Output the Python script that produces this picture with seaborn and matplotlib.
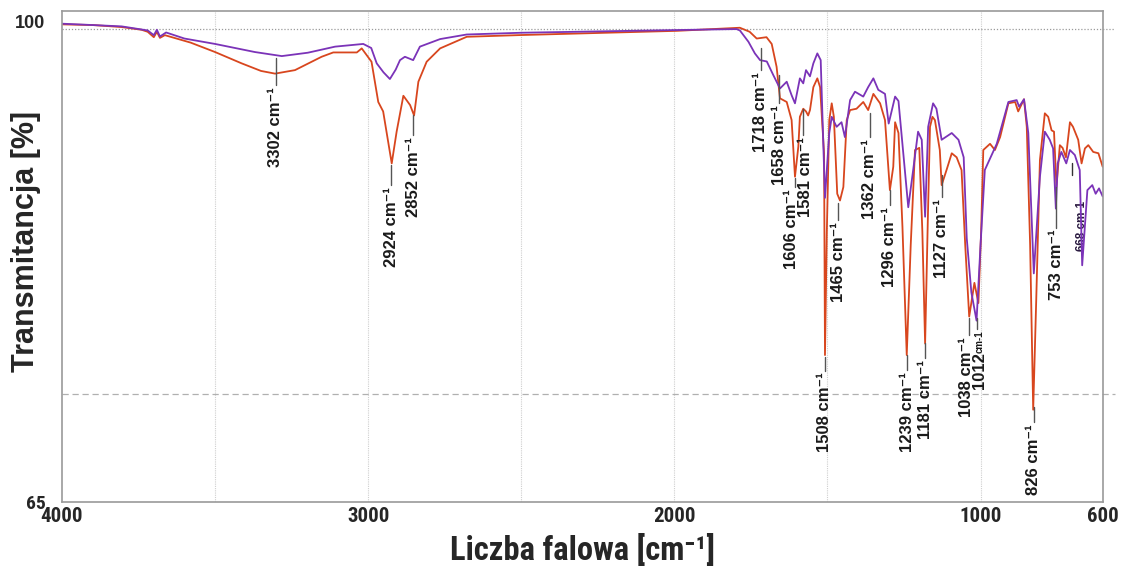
import matplotlib
matplotlib.use("Agg")
import matplotlib.pyplot as plt
from matplotlib.transforms import ScaledTranslation
import pandas as pd
import seaborn as sns

# ===== 数据=====
RED_WN = [4000, 3900, 3805, 3740, 3720, 3700, 3690, 3680, 3664, 3580, 3500, 3413, 3350, 3304,
          3239, 3152, 3114, 3037, 3021, 2989, 2967, 2951, 2923, 2907, 2885, 2863, 2850, 2836,
          2809, 2765, 2678, 2499, 1992, 1786, 1754, 1731, 1699, 1682, 1666, 1655,
          1633, 1617, 1606, 1595, 1590, 1579, 1570, 1563, 1557, 1546, 1533, 1524,
          1511, 1508, 1502, 1494, 1486, 1479, 1468, 1459, 1448, 1437, 1426, 1405,
          1383, 1367, 1350, 1328, 1312, 1296, 1285, 1279, 1268, 1255, 1241, 1228,
          1214, 1200, 1190, 1181, 1172, 1165, 1157, 1149, 1133, 1127, 1111, 1094,
          1078, 1062, 1050, 1037, 1020, 1007, 998, 991, 969, 953, 936, 909, 887,
          877, 858, 849, 838, 828, 818, 806, 790, 779, 768, 760, 752, 741, 732,
          721, 708, 698, 681, 670, 659, 648, 632, 615, 601]
RED_T = [100.35, 100.3, 100.15, 99.95, 99.8, 99.4, 99.8, 99.35, 99.55, 99.0, 98.3, 97.46, 96.9, 96.7,
         96.96, 97.95, 98.27, 98.27, 98.57, 97.58, 94.6, 93.9, 90.05, 92.4, 95.06, 94.37, 93.6, 96.1,
         97.58, 98.57, 99.43, 99.56, 99.87, 100.1, 99.8, 99.3, 99.4, 98.9, 97.2, 94.87,
         94.6, 93.26, 89.06, 91.3, 93.5, 94.1, 93.9, 93.6, 94.0, 95.7, 96.35, 95.7,
         90.8, 75.85, 85.0, 93.26, 94.5, 93.5, 87.8, 87.3, 88.3, 93.26, 94.0, 94.1,
         94.6, 94.0, 95.2, 94.5, 93.26, 88.07, 89.8, 93.1, 92.3, 85.35, 75.85, 84.0,
         91.04, 91.2, 85.0, 76.7, 86.0, 92.76, 93.5, 93.26, 91.04, 88.44, 89.56, 90.8,
         90.5, 89.56, 84.0, 78.7, 81.2, 79.7, 85.0, 91.04, 91.5, 91.04, 92.0, 94.5, 94.6,
         93.9, 94.8, 92.76, 84.0, 71.8, 80.0, 90.3, 93.76, 93.5, 92.5, 92.4, 88.3, 91.4, 91.2,
         90.5, 93.1, 92.76, 91.8, 90.05, 91.16, 91.4, 90.9, 90.8, 89.8]

PURPLE_WN = [4000, 3900, 3805, 3720, 3700, 3690, 3680, 3660, 3600, 3500, 3370, 3282, 3197,
             3108, 3016, 2990, 2972, 2950, 2929, 2910, 2896, 2880, 2853, 2831, 2765, 2678,
             2499, 1992, 1797, 1786, 1758, 1737, 1720, 1698, 1677, 1655, 1633, 1617, 1606, 1590,
             1579, 1570, 1557, 1546, 1533, 1522, 1508, 1494, 1486, 1470, 1454, 1443,
             1426, 1410, 1383, 1367, 1350, 1334, 1312, 1300, 1279, 1268, 1236, 1220,
             1204, 1192, 1181, 1171, 1155, 1144, 1127, 1094, 1072, 1055, 1045, 1030,
             1013, 1000, 986, 947, 909, 882, 874, 858, 844, 826, 806, 790, 774, 763,
             754, 748, 736, 720, 708, 692, 676, 668, 651, 635, 624, 613, 601]
PURPLE_T = [100.4, 100.3, 100.2, 99.9, 99.55, 99.95, 99.45, 99.75, 99.3, 98.9, 98.3, 98.0, 98.25,
            98.7, 98.9, 98.6, 97.46, 96.8, 96.3, 97.0, 97.7, 97.95, 97.7, 98.7, 99.26, 99.6,
            99.73, 99.93, 100.0, 99.9, 99.06, 98.2, 97.7, 97.6, 96.6, 95.6, 96.1, 95.1, 94.5, 96.35,
            95.98, 96.96, 96.5, 97.46, 98.2, 97.7, 87.5, 92.3, 93.5, 92.76, 93.1, 92.0,
            94.74, 95.36, 95.0, 95.7, 96.35, 95.5, 95.2, 93.0, 95.0, 94.67, 86.8, 89.56,
            92.4, 91.8, 86.1, 92.76, 94.5, 94.1, 91.8, 92.3, 91.8, 90.5, 84.5, 80.5,
            78.4, 84.0, 89.56, 91.5, 94.6, 94.74, 94.25, 94.8, 92.3, 81.9, 89.06, 92.4, 91.8, 91.16,
            86.7, 90.05, 90.9, 90.05, 91.04, 90.67, 89.56, 82.5, 88.07, 88.44, 87.8, 88.2, 87.6]

# 峰标注：波数, 引线上端 T, 引线下端 T
PEAK_WN = [3302, 2924, 2852, 1718, 1658, 1606, 1581, 1508, 1465, 1362, 1296,
           1239, 1181, 1127, 1038, 826, 753]
PEAK_TOP = [97.85, 89.93, 93.63, 98.6, 96.6, 89.0, 94.1, 75.7, 87.1, 93.8, 88.07,
            75.85, 76.74, 89.2, 78.6, 72.0, 88.3]
PEAK_BOT = [95.85, 88.44, 92.15, 96.96, 94.5, 88.3, 92.15, 74.7, 85.85, 92.0, 86.96,
            74.74, 75.63, 87.55, 77.3, 70.9, 85.3]

X_TICKS = [4000, 3000, 2000, 1000, 600]
Y_TICKS = [65, 100]
GRID_X = [3500, 3000, 2500, 2000, 1500, 1000]

RED = "#d8461e"
PURPLE = "#7b33b8"

# 文字相对引线的水平挪动（波数），避免挤在一起
TEXT_SHIFT = {1606: 10, 1581: -8, 1038: 9}

sns.set_theme(style="white")
plt.rcParams["font.family"] = ["Liberation Sans", "DejaVu Sans"]
NARROW = ["Liberation Sans Narrow", "Roboto Condensed", "DejaVu Sans"]
LABEL_FONT = ["Liberation Sans", "DejaVu Sans"]

fig = plt.figure(figsize=(11.37, 5.74), dpi=100)
ax = fig.add_axes([0.0545, 0.1263, 0.9156, 0.8550])

red_df = pd.DataFrame({"wn": RED_WN, "T": RED_T})
purple_df = pd.DataFrame({"wn": PURPLE_WN, "T": PURPLE_T})
sns.lineplot(data=red_df, x="wn", y="T", ax=ax, color=RED, lw=1.3, estimator=None)
sns.lineplot(data=purple_df, x="wn", y="T", ax=ax, color=PURPLE, lw=1.3, estimator=None)

ax.set_xlim(4000, 600)
ax.set_ylim(65, 101.36)

for g in GRID_X:
    ax.axvline(g, color="#cfcfcf", lw=0.8, ls=(0, (1, 1)), zorder=0)
ax.axhline(100, xmin=0, xmax=1.012, color="#9a9a9a", lw=0.9, ls=(0, (1, 1.5)), zorder=0, clip_on=False)
ax.axhline(73, xmin=0, xmax=1.012, color="#b0b0b0", lw=0.9, ls=(0, (5, 3)), zorder=0, clip_on=False)

for sp in ax.spines.values():
    sp.set_color("#9a9a9a")
    sp.set_linewidth(1.2)

# 峰标注
for wn, top, bot in zip(PEAK_WN, PEAK_TOP, PEAK_BOT):
    ax.plot([wn, wn], [top, bot], color="#555555", lw=1.0, zorder=3)
    ax.text(wn + TEXT_SHIFT.get(wn, 0), bot - 0.15, f"{wn} cm\u207b\u00b9", rotation=90,
            ha="center", va="top", fontsize=12, fontweight="bold", family=LABEL_FONT,
            color="#1a1a1a", zorder=4)

ax.plot([1012, 1012], [78.6, 77.8], color="#555555", lw=1.0, zorder=3)
ax.text(1003, 77.7, "cm-1", rotation=90, ha="center", va="top", fontsize=7,
        fontweight="bold", family=LABEL_FONT, color="#1a1a1a", zorder=4)
ax.text(1003, 76.1, "1012", rotation=90, ha="center", va="top", fontsize=12,
        fontweight="bold", family=LABEL_FONT, color="#1a1a1a", zorder=4)
ax.text(668, 87.3, "668 cm-1", rotation=90, ha="center", va="top", fontsize=8.5,
        fontweight="bold", family=LABEL_FONT, color="#2a1a40", zorder=1)
ax.plot([700, 700], [90.1, 89.2], color="#333333", lw=1.0, zorder=3)

ax.set_xticks(X_TICKS)
ax.set_xticklabels([str(t) for t in X_TICKS], fontsize=15, fontweight="bold",
                   family=NARROW, fontstretch="condensed")
ax.set_yticks(Y_TICKS)
ax.set_yticklabels([str(t) for t in Y_TICKS], fontsize=13, fontweight="bold")
ax.tick_params(axis="y", direction="in", length=6, color="#555555", pad=12)
ax.tick_params(axis="x", length=0, pad=4)
ylabels = ax.get_yticklabels()
ylabels[0].set_family(NARROW)
ylabels[0].set_fontstretch("condensed")
ylabels[0].set_fontsize(14)
ylabels[1].set_transform(ylabels[1].get_transform() + ScaledTranslation(0, 0.08, fig.dpi_scale_trans))

ax.set_xlabel("Liczba falowa [cm\u207b\u00b9]", fontsize=23.5, fontweight="bold",
              family=NARROW, fontstretch="condensed", labelpad=6)
ax.set_ylabel("Transmitancja [%]", fontsize=22, fontweight="bold")
ax.yaxis.set_label_coords(-0.0202, 0.529)

fig.savefig("out.png", dpi=100)
plt.close(fig)
